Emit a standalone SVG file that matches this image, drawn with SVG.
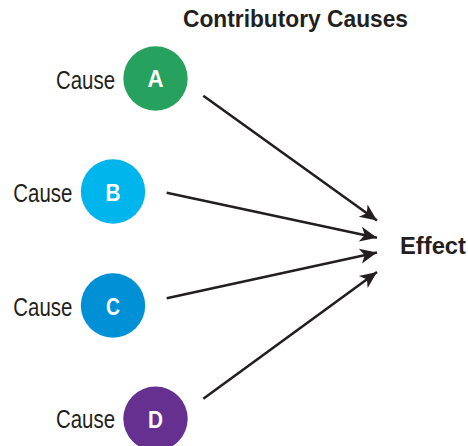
<svg xmlns="http://www.w3.org/2000/svg" width="468" height="446" viewBox="0 0 468 446">
<defs>
<marker id="ah" markerUnits="userSpaceOnUse" markerWidth="20" markerHeight="20" viewBox="-18 -9 20 18" refX="0" refY="0" orient="auto">
<path d="M-17,-7.5 L0,0 L-17,7.5 L-12.5,0 Z" fill="#231f20"/>
</marker>
<style>
.lbl{font-family:"Liberation Sans",Arial,sans-serif;font-size:25.5px;fill:#231f20}
.bold{font-family:"Liberation Sans",Arial,sans-serif;font-weight:bold;fill:#231f20}
.let{font-family:"Liberation Sans",Arial,sans-serif;font-weight:bold;font-size:23px;fill:#ffffff;text-anchor:middle}
.edge{stroke:#231f20;stroke-width:2.6;fill:none;marker-end:url(#ah)}
</style>
</defs>
<rect width="468" height="446" fill="#ffffff"/>
<text class="bold" x="183" y="27" font-size="23.5" textLength="225" lengthAdjust="spacingAndGlyphs">Contributory Causes</text>
<g id="nodeA">
<circle cx="155.5" cy="78.5" r="32.2" fill="#27a15e"/>
<text class="let" x="155.5" y="87.3" textLength="16" lengthAdjust="spacingAndGlyphs">A</text>
<text class="lbl" x="56" y="89.3" textLength="59" lengthAdjust="spacingAndGlyphs">Cause</text>
</g>
<g id="nodeB">
<circle cx="113" cy="191.5" r="32.2" fill="#00b4ec"/>
<text class="let" x="113" y="200.5" textLength="15" lengthAdjust="spacingAndGlyphs">B</text>
<text class="lbl" x="13.3" y="201.7" textLength="59" lengthAdjust="spacingAndGlyphs">Cause</text>
</g>
<g id="nodeC">
<circle cx="113" cy="305.5" r="32.2" fill="#0090d5"/>
<text class="let" x="113" y="314.5" textLength="14" lengthAdjust="spacingAndGlyphs">C</text>
<text class="lbl" x="13.3" y="316" textLength="59" lengthAdjust="spacingAndGlyphs">Cause</text>
</g>
<g id="nodeD">
<circle cx="155.5" cy="418.7" r="32.2" fill="#65308f"/>
<text class="let" x="155.5" y="427.5" textLength="15" lengthAdjust="spacingAndGlyphs">D</text>
<text class="lbl" x="56" y="428.3" textLength="59" lengthAdjust="spacingAndGlyphs">Cause</text>
</g>
<g id="effect">
<text class="bold" x="400" y="254" font-size="23.5" textLength="66" lengthAdjust="spacingAndGlyphs">Effect</text>
</g>
<g id="connectors">
<line class="edge" x1="203.3" y1="95.7" x2="377" y2="220.5"/>
<line class="edge" x1="166.7" y1="192.7" x2="377" y2="237.7"/>
<line class="edge" x1="166.7" y1="298.3" x2="377" y2="252.5"/>
<line class="edge" x1="203.3" y1="398.7" x2="377" y2="272"/>
</g>
</svg>
